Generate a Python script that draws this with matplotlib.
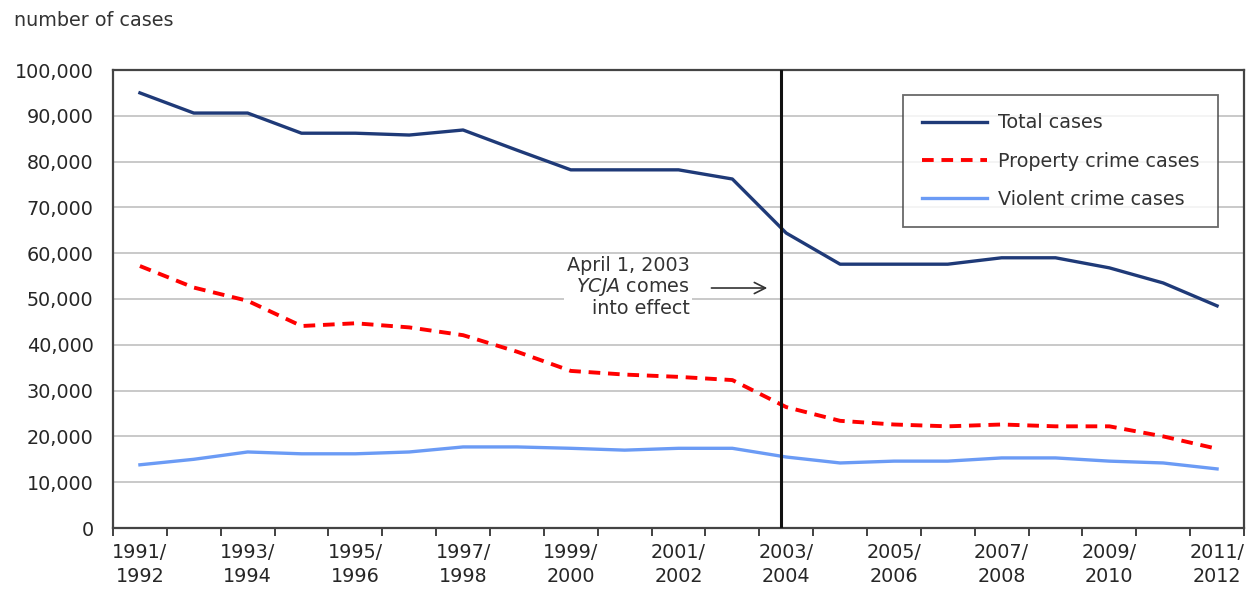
import matplotlib
matplotlib.use("Agg")
import matplotlib.pyplot as plt
import numpy as np

years = ["1991/\n1992", "1992/\n1993", "1993/\n1994", "1994/\n1995", "1995/\n1996", "1996/\n1997",
         "1997/\n1998", "1998/\n1999", "1999/\n2000", "2000/\n2001", "2001/\n2002", "2002/\n2003",
         "2003/\n2004", "2004/\n2005", "2005/\n2006", "2006/\n2007", "2007/\n2008", "2008/\n2009",
         "2009/\n2010", "2010/\n2011", "2011/\n2012"]
total = [95000, 90600, 90600, 86200, 86200, 85800, 86900, 82500, 78200, 78200, 78200, 76200,
         64400, 57600, 57600, 57600, 59000, 59000, 56800, 53500, 48500]
property_cases = [57200, 52500, 49600, 44100, 44700, 43800, 42100, 38500, 34300, 33500, 33000, 32300,
                  26400, 23400, 22600, 22200, 22600, 22200, 22200, 20000, 17300]
violent = [13800, 15000, 16600, 16200, 16200, 16600, 17700, 17700, 17400, 17000, 17400, 17400,
           15500, 14200, 14600, 14600, 15300, 15300, 14600, 14200, 12900]
yticks = list(range(0, 100001, 10000))

FS = 13.8
plt.rcParams['font.family'] = ['DejaVu Sans']
fig = plt.figure(figsize=(12.53, 5.93), dpi=100)
ax = fig.add_axes([113/1253, 1 - 528/593, (1244-113)/1253, (528-70)/593])

x = np.arange(len(years))
ax.plot(x, total, color='#1F3A78', lw=2.4, label='Total cases', zorder=4)
ax.plot(x, property_cases, color='#FF0000', lw=2.8, ls=(0, (3.0, 2.0)), label='Property crime cases', zorder=4)
ax.plot(x, violent, color='#6B9BF5', lw=2.4, label='Violent crime cases', zorder=4)

ax.set_xlim(-0.5, len(years) - 0.5)
ax.set_ylim(0, 100000)
ax.set_yticks(yticks)
ax.set_yticklabels([f"{v:,}" for v in yticks], fontsize=FS, color='#262626')
ax.yaxis.grid(True, color='#C0C0C0', lw=1.2)
ax.set_axisbelow(True)
ax.tick_params(axis='y', length=0, pad=14)

ax.set_xticks(x[::2])
ax.set_xticklabels([years[i] for i in x[::2]], fontsize=FS, color='#262626', linespacing=1.3)
ax.set_xticks(np.arange(-0.5, len(years)), minor=True)
ax.tick_params(axis='x', which='major', length=0, pad=11)
ax.tick_params(axis='x', which='minor', length=6, width=1.3, color='#333333', direction='out')

for s in ax.spines.values():
    s.set_color('#444444')
    s.set_linewidth(1.6)

ax.axvline(11.9, color='#111111', lw=2.2, zorder=5)

ax.text(10.21, 52600, "April 1, 2003\n$\\it{YCJA}$ comes\ninto effect", ha='right', va='center',
        fontsize=FS, color='#333333', linespacing=1.05,
        bbox=dict(facecolor='white', edgecolor='none', pad=2), zorder=3)
ax.annotate("", xy=(11.7, 52400), xytext=(10.56, 52400),
            arrowprops=dict(arrowstyle='->', color='#333333', lw=1.2, mutation_scale=20), zorder=3)

leg = ax.legend(loc='upper right', bbox_to_anchor=(0.977, 0.945), borderaxespad=0, fontsize=FS,
                frameon=True, fancybox=False, edgecolor='#444444', handlelength=3.4,
                labelspacing=1.0, borderpad=0.95, handletextpad=0.6)
leg.get_frame().set_linewidth(1.3)
for t in leg.get_texts():
    t.set_color('#333333')

fig.text(14/1253, 1 - 20/593, "number of cases", fontsize=FS, color='#333333', va='center', ha='left')

fig.savefig("out.png", dpi=100)
